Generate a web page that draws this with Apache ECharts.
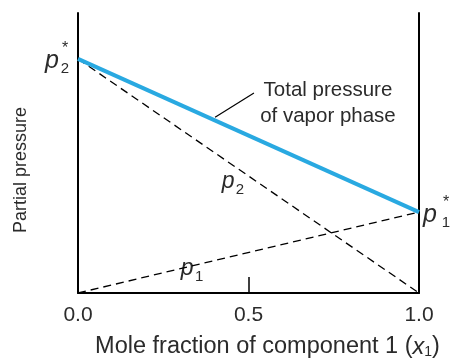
<!DOCTYPE html>
<html><head><meta charset="utf-8">
<script src="https://cdn.jsdelivr.net/npm/echarts@6/dist/echarts.min.js"></script>
<style>html,body{margin:0;padding:0;background:#fff}#c{width:455px;height:358px}</style>
</head><body><div id="c"></div>
<script>
const xValues = [0, 1];
const p1Values = [0, 0.289];
const p2Values = [0.836, 0];
const totalValues = [0.836, 0.289];
const xTickLabels = ['0.0', '0.5', '1.0'];
const leaderX = [0.402, 0.516];
const leaderY = [0.628, 0.714];

const FONT = '"Liberation Sans", Arial, sans-serif';
const TXT = '#2b2b2b';
const chart = echarts.init(document.getElementById('c'), null, {renderer: 'canvas'});

function pairs(xs, ys) { return xs.map((x, i) => [x, ys[i]]); }

chart.setOption({
  animation: false,
  grid: {left: 78, right: 36, top: 13, bottom: 65, containLabel: false, outerBoundsMode: 'none'},
  xAxis: {
    type: 'value', min: 0, max: 1, interval: 0.5,
    axisLine: {show: true, lineStyle: {color: '#000', width: 2}},
    axisTick: {show: true, inside: true, length: 16, lineStyle: {color: '#000', width: 1.5}},
    axisLabel: {fontFamily: FONT, fontSize: 21, color: TXT, margin: 12,
      formatter: v => xTickLabels[Math.round(v * 2)]},
    splitLine: {show: false},
    name: 'Mole fraction of component 1 ({i|x}{s|1})',
    nameLocation: 'middle', nameGap: 42,
    nameTextStyle: {fontFamily: FONT, fontSize: 23.5, color: TXT, padding: [0, 0, 0, 38],
      rich: {i: {fontFamily: FONT, fontSize: 23.5, fontStyle: 'italic', color: TXT},
             s: {fontFamily: FONT, fontSize: 14, color: TXT, padding: [10, 0, 0, 0]}}}
  },
  yAxis: [{
    type: 'value', min: 0, max: 1,
    axisLine: {show: true, lineStyle: {color: '#000', width: 2}},
    axisTick: {show: false}, axisLabel: {show: false}, splitLine: {show: false}
  }, {
    type: 'value', min: 0, max: 1, position: 'right',
    axisLine: {show: true, lineStyle: {color: '#000', width: 2}},
    axisTick: {show: false}, axisLabel: {show: false}, splitLine: {show: false}
  }],
  series: [
    {type: 'line', data: pairs(xValues, p1Values), symbol: 'none', silent: true,
     lineStyle: {color: '#000', width: 1.3, type: [8, 5]}},
    {type: 'line', data: pairs(xValues, p2Values), symbol: 'none', silent: true,
     lineStyle: {color: '#000', width: 1.3, type: [8, 5]}},
    {type: 'line', data: pairs(xValues, totalValues), symbol: 'none', silent: true,
     lineStyle: {color: '#29a9e1', width: 4}},
    {type: 'line', data: pairs(leaderX, leaderY), symbol: 'none', silent: true,
     lineStyle: {color: '#000', width: 1.2}}
  ]
});

function px(x, y) { return chart.convertToPixel({gridIndex: 0}, [x, y]); }
const g = [];
function t(text, pt, dx, dy, size, italic) {
  g.push({type: 'text', x: pt[0] + dx, y: pt[1] + dy,
    style: {text: text, fontFamily: FONT, fontSize: size, fontStyle: italic ? 'italic' : 'normal',
      fill: TXT, align: 'center', verticalAlign: 'middle'}});
}
const a2 = px(xValues[0], totalValues[0]);
const a1 = px(xValues[1], totalValues[1]);
function star(anchor, sub, dx, dy, sdx) {
  t('p', anchor, dx, dy, 25, true);
  t('*', anchor, dx + sdx, dy - 12, 16);
  t(sub, anchor, dx + sdx, dy + 8, 15);
}
star(a2, '2', -26, 2, 13);
star(a1, '1', 11, 3, 16);
function plabel(pt, sub) {
  t('p', pt, 0, -1, 23, true);
  t(sub, pt, 12, 8, 15);
}
plabel(px(0.44, 0.396), '2');
plabel(px(0.32, 0.085), '1');
const ann = px(0.733, 0.679);
g.push({type: 'text', x: ann[0], y: ann[1],
  style: {text: 'Total pressure\nof vapor phase', fontFamily: FONT, fontSize: 20.5, lineHeight: 26,
    fill: TXT, align: 'center', verticalAlign: 'middle'}});
g.push({type: 'text', x: 21, y: 170, rotation: Math.PI / 2,
  style: {text: 'Partial pressure', fontFamily: FONT, fontSize: 18, fill: TXT,
    align: 'center', verticalAlign: 'middle'}});
chart.setOption({graphic: g});
</script></body></html>
